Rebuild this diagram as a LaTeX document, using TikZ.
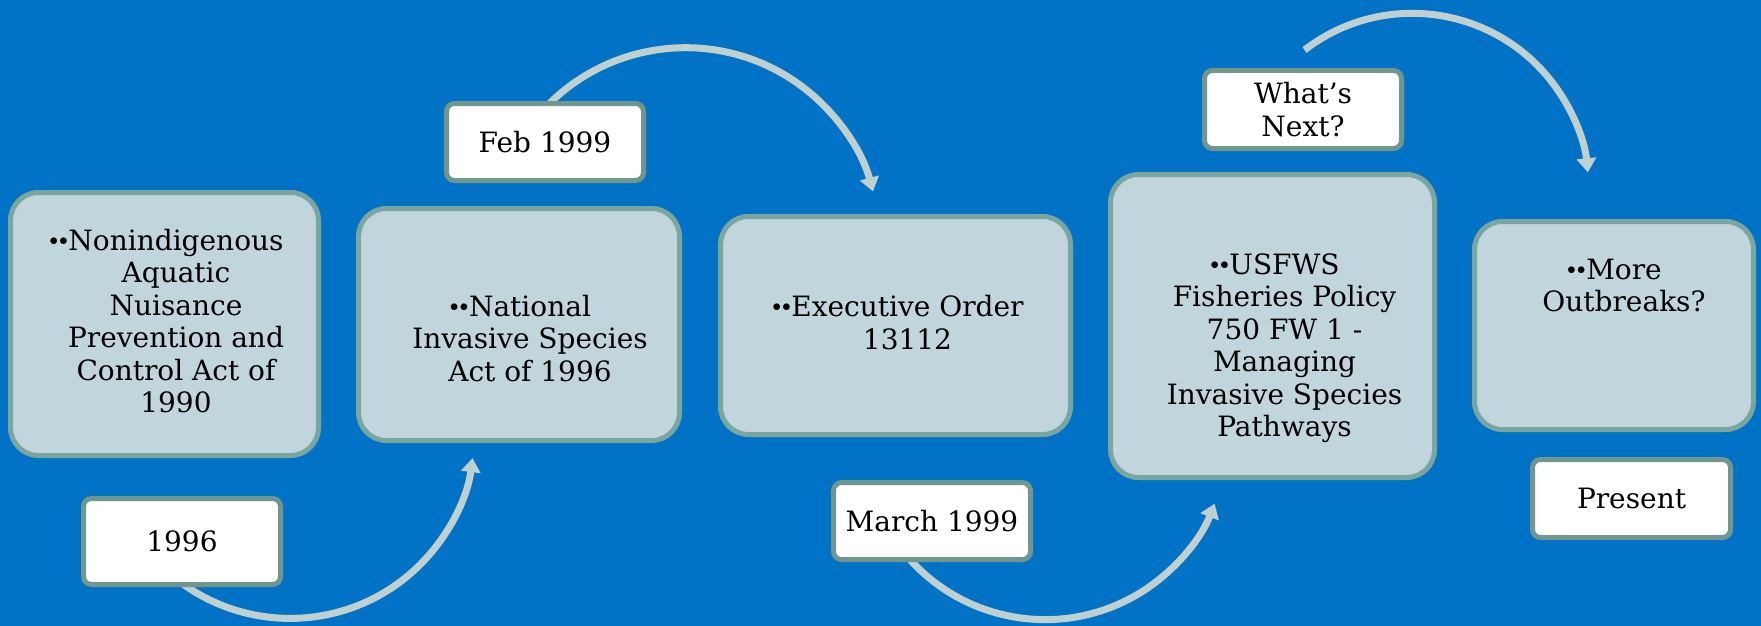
\documentclass[tikz,border=0pt]{standalone}
\usepackage{fontspec}
\setmainfont{DejaVu Serif}
\newfontfamily\bulfont{Liberation Serif}
\newcommand\mybul{\llap{{\bulfont ••}}}
\usetikzlibrary{arrows.meta,calc}
\definecolor{bgblue}{HTML}{0073C6}
\definecolor{boxfill}{HTML}{C1D5DC}
\definecolor{boxline}{HTML}{7AA69E}
\definecolor{tagline}{HTML}{70968E}
\definecolor{arrowcol}{HTML}{C0D0CE}
\pgfdeclarelayer{bg}
\pgfdeclarelayer{arrowlayer}
\pgfsetlayers{bg,arrowlayer,main}
\tikzset{
  bigbox/.style={draw=boxline, fill=boxfill, line width=5pt, rounded corners=28pt, inner sep=0pt},
  tag/.style={draw=tagline, fill=white, line width=5pt, rounded corners=8pt,
    minimum width=197pt, minimum height=77pt, inner sep=0pt, align=center,
    font=\fontsize{28}{32.5}\selectfont},
  boxtext/.style={align=center, inner sep=0pt, font=\fontsize{28}{32.5}\selectfont},
  arr/.style={draw=arrowcol, line width=7pt, -{Triangle[width=19pt,length=14pt]}}
}
\begin{document}
\begin{tikzpicture}[x=1pt,y=1pt]
\begin{pgfonlayer}{bg}
\fill[bgblue] (0,0) rectangle (1761,-626);
\end{pgfonlayer}
\useasboundingbox (0,0) rectangle (1761,-626);

% main boxes
\node[bigbox, minimum width=308pt, minimum height=263pt] (b1) at (164.5,-324) {};
\node[boxtext] (t1) at (176,-321) {\mybul Nonindigenous\\Aquatic\\Nuisance\\Prevention and\\Control Act of\\1990};

\node[bigbox, minimum width=321pt, minimum height=232pt] (b2) at (519,-324.5) {};
\node[boxtext] (t2) at (530,-338.5) {\mybul National\\Invasive Species\\Act of 1996};

\node[bigbox, minimum width=350pt, minimum height=218pt] (b3) at (895.5,-325.5) {};
\node[boxtext] (t3) at (907.5,-322.6) {\mybul Executive Order\\13112};

\node[bigbox, minimum width=324pt, minimum height=303pt] (b4) at (1272.5,-326) {};
\node[boxtext] (t4) at (1284.5,-348.3) {\mybul USFWS\\Fisheries Policy\\750 FW 1 -\\Managing\\Invasive Species\\Pathways};

\node[bigbox, minimum width=279pt, minimum height=208pt] (b5) at (1614,-325.5) {};
\node[boxtext] (t5) at (1624,-285.7) {\mybul More\\Outbreaks?};

% date tags
\node[tag, minimum height=86pt] (d1996) at (182,-541.5) {1996};
\node[tag] (feb) at (545,-142) {Feb 1999};
\node[tag] (mar) at (932,-521) {March 1999};
\node[tag, minimum height=78pt] (wn) at (1303,-109.5) {What’s\\Next?};
\node[tag, minimum width=198pt, minimum height=78pt] (pres) at (1631.5,-498.5) {Present};

\coordinate (a4s) at ($(wn.center)+(1.5,59.5)$);

\begin{pgfonlayer}{arrowlayer}
\draw[arr] (d1996.center) ++(-22,-23) arc[start angle=225, end angle=352.6, radius=184];
\draw[arr] (feb.center) ++(-8,25) arc[start angle=140, end angle=15, radius=194];
\draw[arr] (mar.center) ++(-36,-21) arc[start angle=215, end angle=338.7, radius=182];
\draw[arr] (a4s) arc[start angle=127.6, end angle=5.7, radius=176.5];
\end{pgfonlayer}
\end{tikzpicture}
\end{document}
